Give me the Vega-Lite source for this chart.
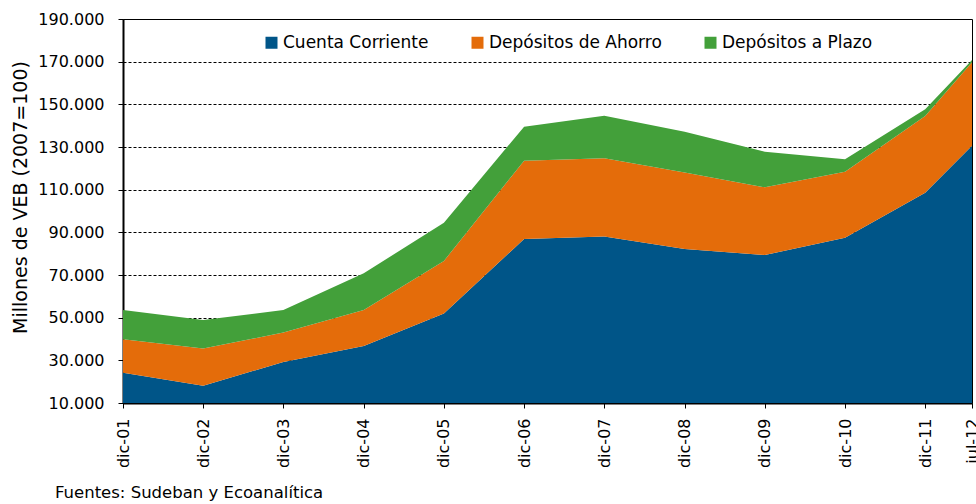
{
  "$schema": "https://vega.github.io/schema/vega-lite/v6.json",
  "width": 849,
  "height": 384,
  "autosize": {"type": "none"},
  "padding": {"left": 123, "top": 19, "right": 4, "bottom": 101},
  "background": "#ffffff",
  "config": {"view": {"stroke": "#000000", "strokeWidth": 1}, "font": "DejaVu Sans"},
  "title": {
    "text": "Fuentes: Sudeban y Ecoanalítica",
    "orient": "bottom",
    "anchor": "start",
    "frame": "group",
    "dx": -68,
    "offset": 17,
    "fontSize": 16.5,
    "font": "DejaVu Sans",
    "fontWeight": "normal",
    "color": "#000000"
  },
  "data": {
    "values": [
      {"fecha": "2001-12-01", "serie": "Cuenta Corriente", "orden": 1, "valor": 24200},
      {"fecha": "2002-12-01", "serie": "Cuenta Corriente", "orden": 1, "valor": 18100},
      {"fecha": "2003-12-01", "serie": "Cuenta Corriente", "orden": 1, "valor": 29200},
      {"fecha": "2004-12-01", "serie": "Cuenta Corriente", "orden": 1, "valor": 36700},
      {"fecha": "2005-12-01", "serie": "Cuenta Corriente", "orden": 1, "valor": 52000},
      {"fecha": "2006-12-01", "serie": "Cuenta Corriente", "orden": 1, "valor": 86900},
      {"fecha": "2007-12-01", "serie": "Cuenta Corriente", "orden": 1, "valor": 88000},
      {"fecha": "2008-12-01", "serie": "Cuenta Corriente", "orden": 1, "valor": 82200},
      {"fecha": "2009-12-01", "serie": "Cuenta Corriente", "orden": 1, "valor": 79400},
      {"fecha": "2010-12-01", "serie": "Cuenta Corriente", "orden": 1, "valor": 87500},
      {"fecha": "2011-12-01", "serie": "Cuenta Corriente", "orden": 1, "valor": 108600},
      {"fecha": "2012-07-01", "serie": "Cuenta Corriente", "orden": 1, "valor": 130600},
      {"fecha": "2001-12-01", "serie": "Depósitos de Ahorro", "orden": 2, "valor": 15700},
      {"fecha": "2002-12-01", "serie": "Depósitos de Ahorro", "orden": 2, "valor": 17500},
      {"fecha": "2003-12-01", "serie": "Depósitos de Ahorro", "orden": 2, "valor": 13800},
      {"fecha": "2004-12-01", "serie": "Depósitos de Ahorro", "orden": 2, "valor": 16900},
      {"fecha": "2005-12-01", "serie": "Depósitos de Ahorro", "orden": 2, "valor": 24600},
      {"fecha": "2006-12-01", "serie": "Depósitos de Ahorro", "orden": 2, "valor": 36700},
      {"fecha": "2007-12-01", "serie": "Depósitos de Ahorro", "orden": 2, "valor": 36700},
      {"fecha": "2008-12-01", "serie": "Depósitos de Ahorro", "orden": 2, "valor": 35800},
      {"fecha": "2009-12-01", "serie": "Depósitos de Ahorro", "orden": 2, "valor": 31700},
      {"fecha": "2010-12-01", "serie": "Depósitos de Ahorro", "orden": 2, "valor": 30900},
      {"fecha": "2011-12-01", "serie": "Depósitos de Ahorro", "orden": 2, "valor": 35900},
      {"fecha": "2012-07-01", "serie": "Depósitos de Ahorro", "orden": 2, "valor": 39100},
      {"fecha": "2001-12-01", "serie": "Depósitos a Plazo", "orden": 3, "valor": 13700},
      {"fecha": "2002-12-01", "serie": "Depósitos a Plazo", "orden": 3, "valor": 13300},
      {"fecha": "2003-12-01", "serie": "Depósitos a Plazo", "orden": 3, "valor": 10600},
      {"fecha": "2004-12-01", "serie": "Depósitos a Plazo", "orden": 3, "valor": 17200},
      {"fecha": "2005-12-01", "serie": "Depósitos a Plazo", "orden": 3, "valor": 17900},
      {"fecha": "2006-12-01", "serie": "Depósitos a Plazo", "orden": 3, "valor": 15900},
      {"fecha": "2007-12-01", "serie": "Depósitos a Plazo", "orden": 3, "valor": 20000},
      {"fecha": "2008-12-01", "serie": "Depósitos a Plazo", "orden": 3, "valor": 19200},
      {"fecha": "2009-12-01", "serie": "Depósitos a Plazo", "orden": 3, "valor": 16700},
      {"fecha": "2010-12-01", "serie": "Depósitos a Plazo", "orden": 3, "valor": 5800},
      {"fecha": "2011-12-01", "serie": "Depósitos a Plazo", "orden": 3, "valor": 3200},
      {"fecha": "2012-07-01", "serie": "Depósitos a Plazo", "orden": 3, "valor": 1100}
    ]
  },
  "mark": {"type": "area", "clip": true, "interpolate": "linear", "opacity": 1},
  "encoding": {
    "x": {
      "field": "fecha",
      "type": "temporal",
      "scale": {"type": "utc", "nice": false},
      "axis": {
        "title": null,
        "values": [
          {"year": 2001, "month": 12, "date": 1, "utc": true},
          {"year": 2002, "month": 12, "date": 1, "utc": true},
          {"year": 2003, "month": 12, "date": 1, "utc": true},
          {"year": 2004, "month": 12, "date": 1, "utc": true},
          {"year": 2005, "month": 12, "date": 1, "utc": true},
          {"year": 2006, "month": 12, "date": 1, "utc": true},
          {"year": 2007, "month": 12, "date": 1, "utc": true},
          {"year": 2008, "month": 12, "date": 1, "utc": true},
          {"year": 2009, "month": 12, "date": 1, "utc": true},
          {"year": 2010, "month": 12, "date": 1, "utc": true},
          {"year": 2011, "month": 12, "date": 1, "utc": true},
          {"year": 2012, "month": 7, "date": 1, "utc": true}
        ],
        "labelExpr": "(utcmonth(datum.value) == 11 ? 'dic-' : 'jul-') + utcFormat(datum.value, '%y')",
        "labelAngle": -90,
        "labelAlign": "right",
        "labelBaseline": "middle",
        "labelFont": "DejaVu Sans",
        "labelFontSize": 16,
        "labelColor": "#000000",
        "labelPadding": 10,
        "labelFlush": false,
        "labelOverlap": false,
        "tickSize": 5,
        "tickColor": "#000000",
        "tickWidth": 1,
        "domainColor": "#000000",
        "domainWidth": 2,
        "grid": false
      }
    },
    "y": {
      "field": "valor",
      "type": "quantitative",
      "stack": "zero",
      "scale": {"domain": [10000, 190000], "zero": false, "nice": false},
      "axis": {
        "title": "Millones de VEB  (2007=100)",
        "titleFont": "DejaVu Sans",
        "titleFontSize": 19,
        "titleFontWeight": "normal",
        "titleColor": "#000000",
        "titlePadding": 7,
        "titleY": 178,
        "values": [10000, 30000, 50000, 70000, 90000, 110000, 130000, 150000, 170000, 190000],
        "labelExpr": "replace(format(datum.value, ','), ',', '.')",
        "labelFont": "DejaVu Sans",
        "labelFontSize": 16,
        "labelColor": "#000000",
        "labelPadding": 14,
        "labelFlush": false,
        "tickSize": 5,
        "tickColor": "#000000",
        "domainColor": "#000000",
        "domainWidth": 2,
        "grid": true,
        "gridColor": "#000000",
        "gridDash": [3, 2],
        "gridWidth": 1,
        "gridOpacity": 1
      }
    },
    "color": {
      "field": "serie",
      "type": "nominal",
      "scale": {
        "domain": ["Cuenta Corriente", "Depósitos de Ahorro", "Depósitos a Plazo"],
        "range": ["#005588", "#E46C0A", "#43A03A"]
      },
      "legend": {
        "title": null,
        "orient": "none",
        "direction": "horizontal",
        "columns": 3,
        "legendX": 140,
        "legendY": 15,
        "padding": 0,
        "symbolType": "square",
        "symbolSize": 144,
        "symbolStrokeWidth": 0,
        "symbolOpacity": 1,
        "labelFont": "DejaVu Sans",
        "labelFontSize": 17,
        "labelLimit": 0,
        "labelColor": "#000000",
        "labelOffset": 3,
        "columnPadding": 40
      }
    },
    "order": {"field": "orden", "type": "quantitative"}
  }
}
